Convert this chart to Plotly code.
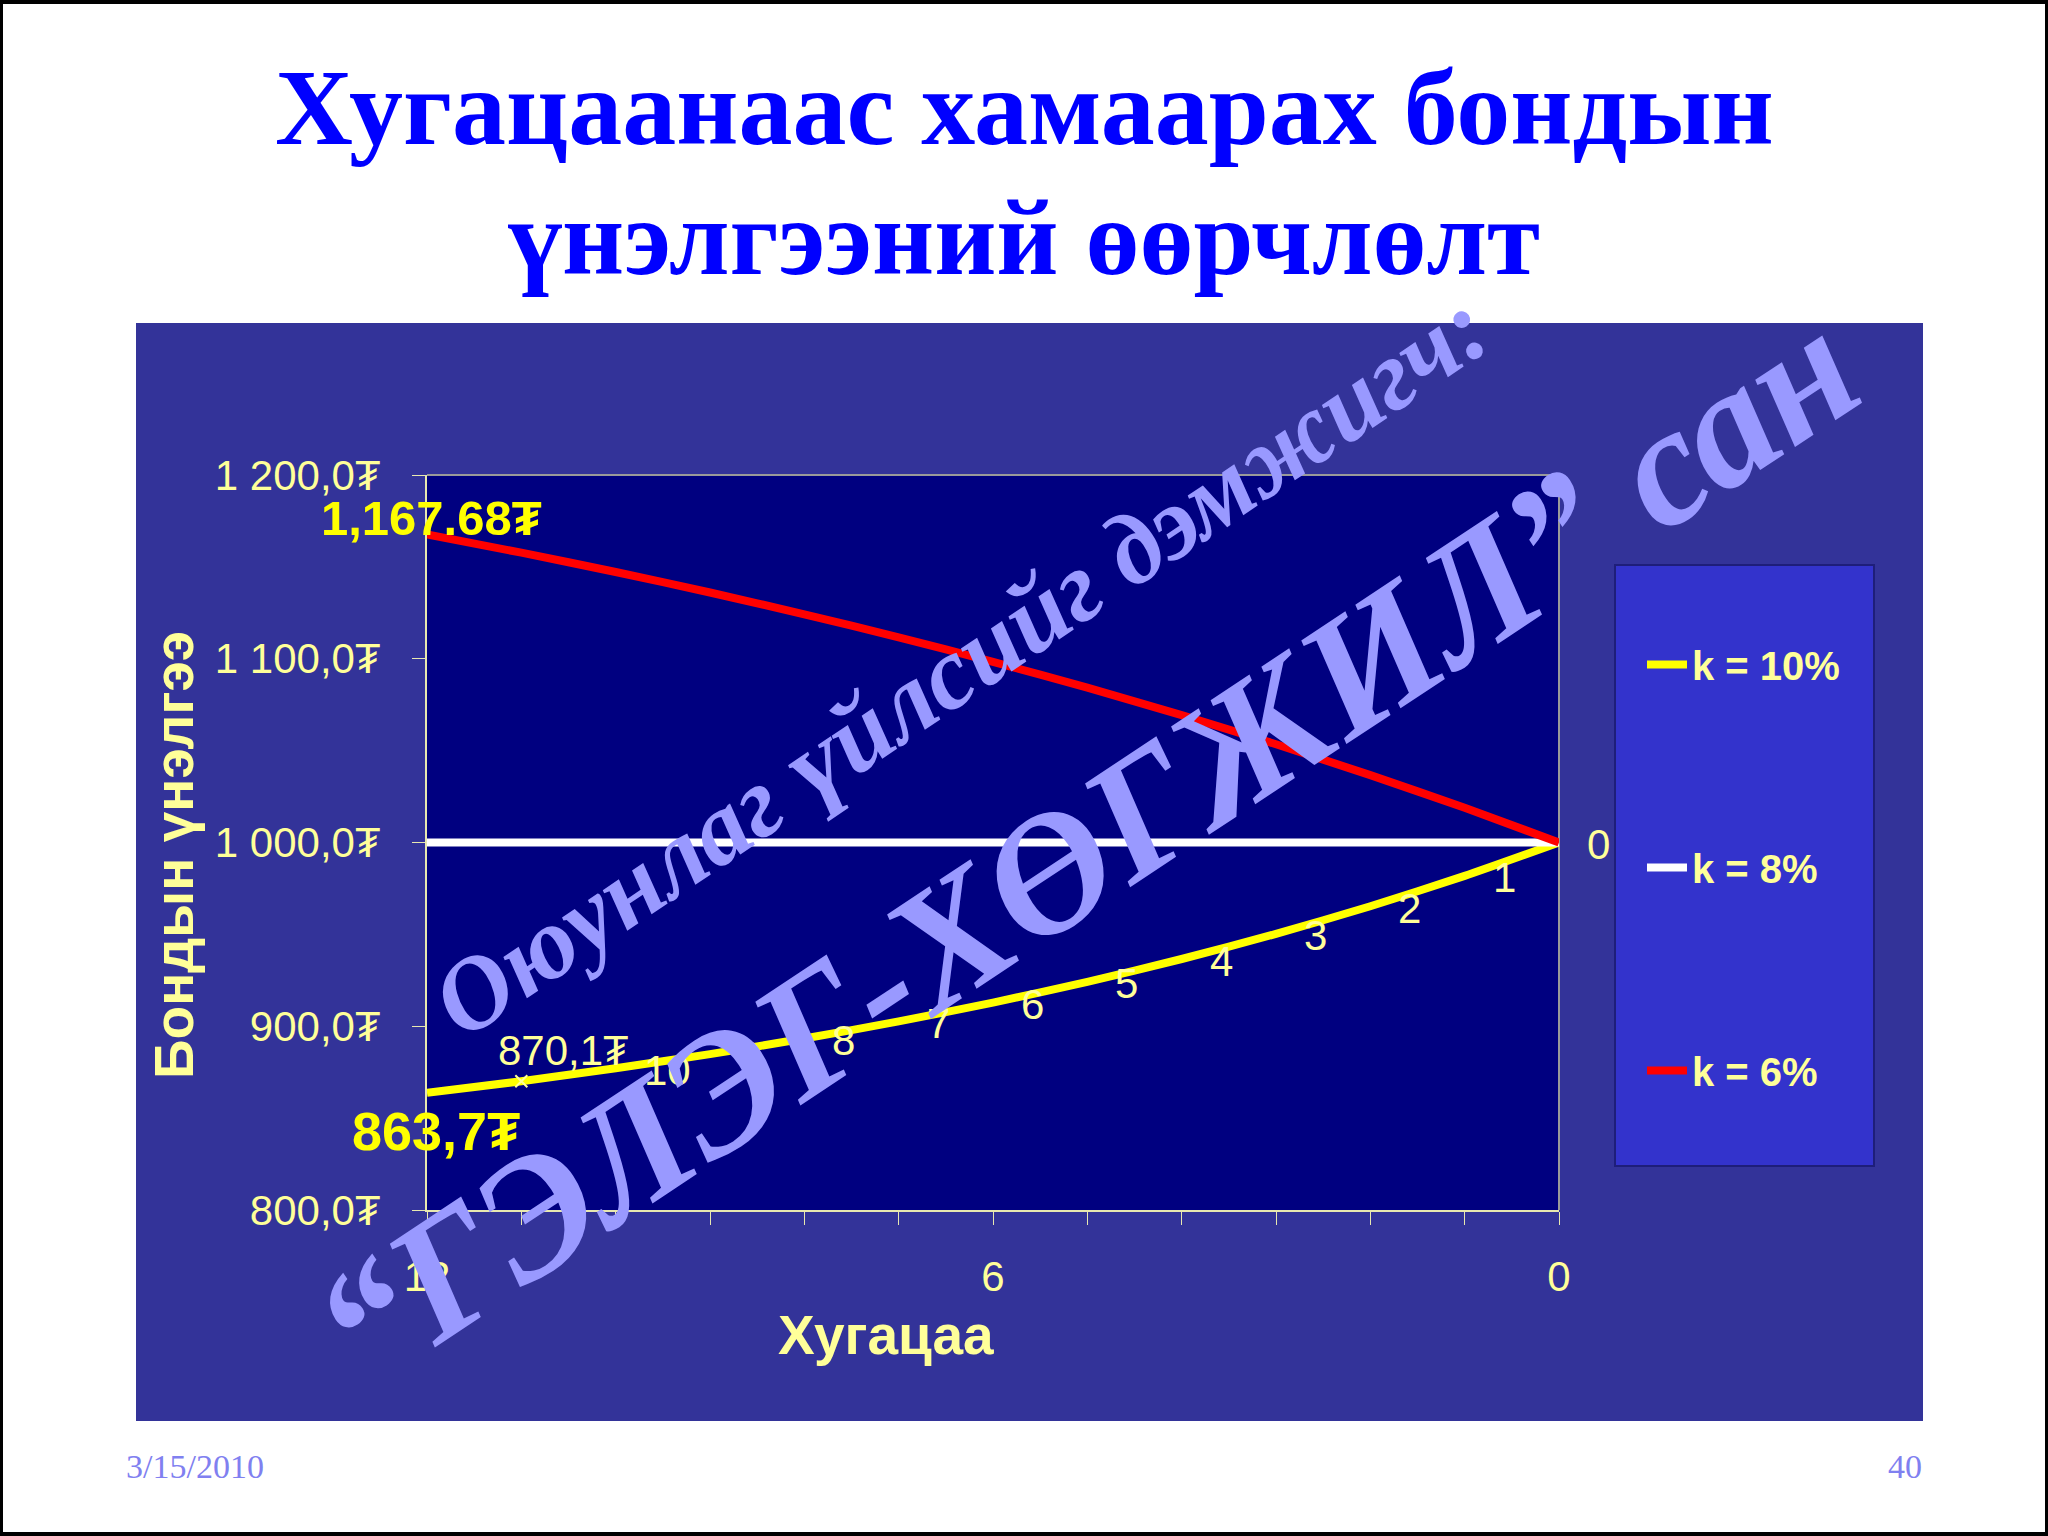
import plotly.graph_objects as go

# ---------------- data ----------------
years = [12, 11, 10, 9, 8, 7, 6, 5, 4, 3, 2, 1, 0]
k10 = [863.73, 870.10, 877.11, 884.82, 893.30, 902.63, 912.89, 924.18, 936.60, 950.26, 965.29, 981.82, 1000.0]
k8 = [1000.0, 1000.0, 1000.0, 1000.0, 1000.0, 1000.0, 1000.0, 1000.0, 1000.0, 1000.0, 1000.0, 1000.0, 1000.0]
k6 = [1167.68, 1157.74, 1147.20, 1136.04, 1124.19, 1111.65, 1098.34, 1084.25, 1069.30, 1053.46, 1036.67, 1018.87, 1000.0]
series_names = ["k = 10%", "k = 8%", "k = 6%"]
point_labels = ["863,7₮", "870,1₮", "10", "9", "8", "7", "6", "5", "4", "3", "2", "1", "0"]
red_label = "1,167.68₮"
y_tickvals = [800, 900, 1000, 1100, 1200]
y_ticktext = ["800,0₮", "900,0₮", "1 000,0₮", "1 100,0₮", "1 200,0₮"]
x_tickvals = [12, 11, 10, 9, 8, 7, 6, 5, 4, 3, 2, 1, 0]
x_ticktext = ["12", "", "", "", "", "", "6", "", "", "", "", "", "0"]
title_lines = ["Хугацаанаас хамаарах бондын", "үнэлгээний өөрчлөлт"]
x_title = "Хугацаа"
y_title = "Бондын үнэлгээ"
footer_date = "3/15/2010"
footer_page = "40"
wm_small = "Оюунлаг үйлсийг дэмжигч:"
wm_big = "“ГЭЛЭГ-ХӨГЖИЛ” сан"

# ---------------- layout geometry ----------------
W, H = 2048, 1536
PL, PR, PT, PB = 427, 1559, 475, 1210


def px(x):
    return (x - PL) / (PR - PL)


def py(y):
    return (PB - y) / (PB - PT)


LY = "#FFFF99"
SANS = "Liberation Sans, Arial, DejaVu Sans, sans-serif"
SERIF = "Liberation Serif, Times New Roman, serif"

fig = go.Figure()
fig.add_trace(go.Scatter(x=years, y=k10, mode="lines", name="<b>" + series_names[0] + "</b>",
                         line=dict(color="#FFFF00", width=8, shape="spline", smoothing=0.6),
                         legendgroup="a"))
fig.add_trace(go.Scatter(x=years, y=k8, mode="lines", name="<b>" + series_names[1] + "</b>",
                         line=dict(color="#FFFFFF", width=8), legendgroup="b"))
fig.add_trace(go.Scatter(x=years, y=k6, mode="lines", name="<b>" + series_names[2] + "</b>",
                         line=dict(color="#FF0000", width=8, shape="spline", smoothing=0.6),
                         legendgroup="c"))
# small cross marker at year 11
fig.add_trace(go.Scatter(x=[years[1]], y=[k10[1]], mode="markers", showlegend=False,
                         marker=dict(symbol="x-thin", size=12, line=dict(color=LY, width=2))))

shapes = [
    # chart area
    dict(type="rect", xref="paper", yref="paper", x0=px(136), x1=px(1923), y0=py(1421), y1=py(323),
         line=dict(width=0), fillcolor="#333399", layer="below"),
    # plot area
    dict(type="rect", xref="paper", yref="paper", x0=0, x1=1, y0=0, y1=1,
         line=dict(width=0), fillcolor="#000080", layer="below"),
    # legend box
    dict(type="rect", xref="paper", yref="paper", x0=px(1615), x1=px(1874), y0=py(1166), y1=py(565),
         line=dict(color="#1E1E7A", width=2), fillcolor="#3333CC", layer="below"),
    # plot-area border (top/right gray)
    dict(type="line", xref="paper", yref="paper", x0=0, x1=1, y0=1, y1=1,
         line=dict(color="#9A9A9A", width=2), layer="below"),
    dict(type="line", xref="paper", yref="paper", x0=1, x1=1, y0=0, y1=1,
         line=dict(color="#9A9A9A", width=2), layer="below"),
    # slide border
    dict(type="rect", xref="paper", yref="paper", x0=px(1), x1=px(W - 1), y0=py(H - 2), y1=py(2),
         line=dict(color="black", width=4), fillcolor="rgba(0,0,0,0)", layer="above"),
]

ann = []
# titles
ann.append(dict(text="<b>" + title_lines[0] + "</b>", xref="paper", yref="paper", x=px(1024), y=py(107),
                xanchor="center", yanchor="middle", showarrow=False,
                font=dict(family=SERIF, size=108, color="#0000FF")))
ann.append(dict(text="<b>" + title_lines[1] + "</b>", xref="paper", yref="paper", x=px(1024), y=py(238),
                xanchor="center", yanchor="middle", showarrow=False,
                font=dict(family=SERIF, size=108, color="#0000FF")))
# axis titles
ann.append(dict(text="<b>" + x_title + "</b>", xref="paper", yref="paper", x=px(886), y=py(1335),
                xanchor="center", yanchor="middle", showarrow=False,
                font=dict(family=SANS, size=55, color=LY)))
ann.append(dict(text="<b>" + y_title + "</b>", xref="paper", yref="paper", x=px(174), y=py(855),
                xanchor="center", yanchor="middle", showarrow=False, textangle=-90,
                font=dict(family=SANS, size=55, color=LY)))
# footer
ann.append(dict(text=footer_date, xref="paper", yref="paper", x=px(124), y=py(1466),
                xanchor="left", yanchor="middle", showarrow=False,
                font=dict(family=SERIF, size=34, color="#8080F0")))
ann.append(dict(text=footer_page, xref="paper", yref="paper", x=px(1924), y=py(1466),
                xanchor="right", yanchor="middle", showarrow=False,
                font=dict(family=SERIF, size=34, color="#8080F0")))

# data labels on the k=10% curve
for i, (xv, yv, lab) in enumerate(zip(years, k10, point_labels)):
    if i == 0:
        ann.append(dict(text="<b>" + lab + "</b>", x=xv, y=yv, xref="x", yref="y", showarrow=False,
                        xanchor="center", yanchor="middle", xshift=9, yshift=-38,
                        font=dict(family=SANS, size=54, color="#FFFF00")))
    elif i == 1:
        ann.append(dict(text=lab, x=xv, y=yv, xref="x", yref="y", showarrow=False,
                        xanchor="center", yanchor="middle", xshift=42, yshift=31,
                        font=dict(family=SANS, size=42, color=LY)))
    else:
        ann.append(dict(text=lab, x=xv, y=yv, xref="x", yref="y", showarrow=False,
                        xanchor="left", yanchor="middle", xshift=26, yshift=-2,
                        font=dict(family=SANS, size=42, color=LY)))
# label on k=6% start
ann.append(dict(text="<b>" + red_label + "</b>", x=years[0], y=k6[0], xref="x", yref="y", showarrow=False,
                xanchor="center", yanchor="middle", xshift=4, yshift=16,
                font=dict(family=SANS, size=49, color="#FFFF00")))

# watermarks (on top)
ann.append(dict(text="<b>" + wm_small + "</b>", xref="paper", yref="paper", x=px(960), y=py(664),
                xanchor="center", yanchor="middle", showarrow=False, textangle=-34,
                font=dict(family=SERIF, size=103, color="#9999FF", style="italic")))
ann.append(dict(text="<b>" + wm_big + "</b>", xref="paper", yref="paper", x=px(1086), y=py(848),
                xanchor="center", yanchor="middle", showarrow=False, textangle=-33.5,
                font=dict(family=SERIF, size=170, color="#9999FF", style="italic")))

fig.update_layout(
    width=W, height=H,
    margin=dict(l=PL, r=W - PR, t=PT, b=H - PB, pad=0),
    paper_bgcolor="white",
    plot_bgcolor="#000080",
    shapes=shapes,
    annotations=ann,
    showlegend=True,
    legend=dict(x=px(1642), y=py(632), xanchor="left", yanchor="top",
                bgcolor="rgba(0,0,0,0)", borderwidth=0,
                font=dict(family=SANS, size=40, color=LY),
                tracegroupgap=148, itemwidth=40),
    xaxis=dict(range=[12, 0], tickvals=x_tickvals, ticktext=x_ticktext,
               showgrid=False, zeroline=False, showline=True, linecolor="#E8E8B0", linewidth=2,
               ticks="outside", ticklen=13, tickcolor="#E8E8B0", tickwidth=1,
               ticklabelstandoff=16,
               tickfont=dict(family=SANS, size=42, color=LY)),
    yaxis=dict(range=[800, 1200], tickvals=y_tickvals, ticktext=y_ticktext,
               showgrid=False, zeroline=False, showline=True, linecolor="#E8E8B0", linewidth=2,
               ticks="outside", ticklen=13, tickcolor="#E8E8B0", tickwidth=1,
               ticklabelstandoff=23,
               tickfont=dict(family=SANS, size=42, color=LY)),
)

fig.write_html("out.html", config={"displayModeBar": False},
               post_script="document.body.style.margin='0';document.body.style.overflow='hidden';")
